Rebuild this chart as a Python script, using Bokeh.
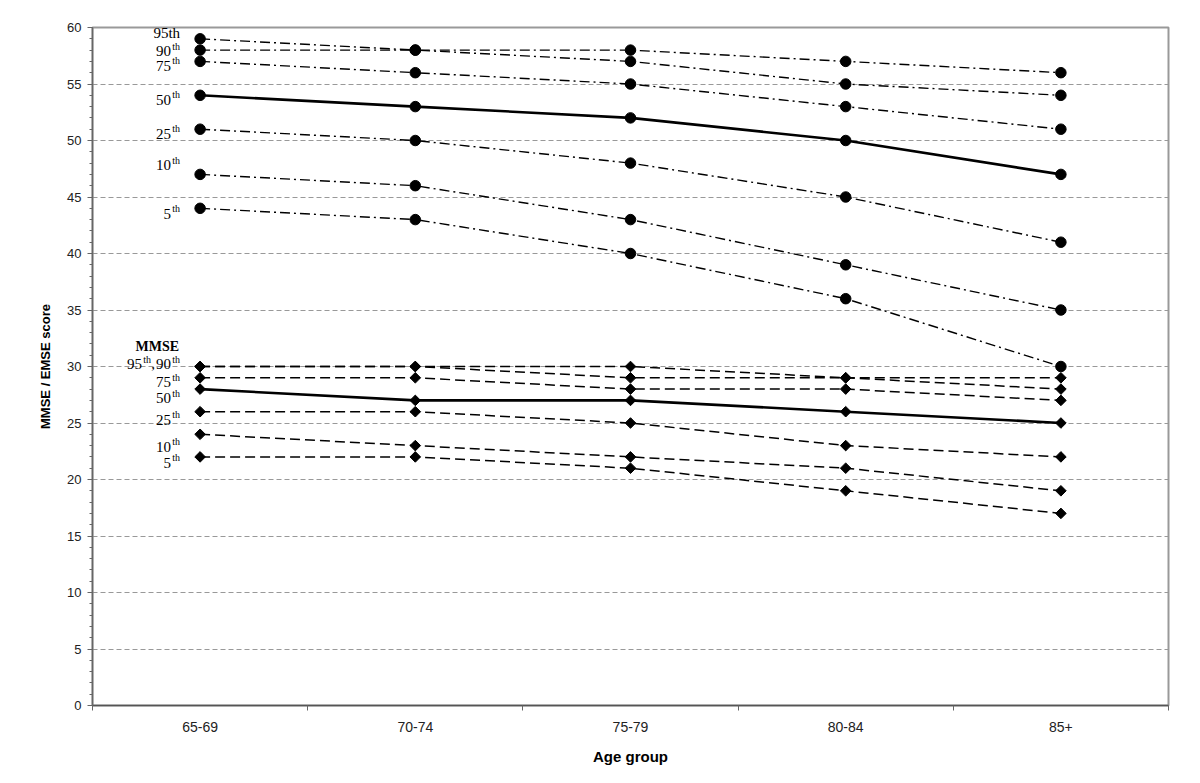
from bokeh.plotting import figure
from bokeh.models import FixedTicker, Range1d, SingleIntervalTicker
from bokeh.embed import file_html
from bokeh.resources import INLINE
from bokeh.core.properties import value
import math

age_groups = ["65-69", "70-74", "75-79", "80-84", "85+"]

# EMSE percentiles
emse_p95 = [59, 58, 58, 57, 56]
emse_p90 = [58, 58, 57, 55, 54]
emse_p75 = [57, 56, 55, 53, 51]
emse_p50 = [54, 53, 52, 50, 47]
emse_p25 = [51, 50, 48, 45, 41]
emse_p10 = [47, 46, 43, 39, 35]
emse_p05 = [44, 43, 40, 36, 30]

# MMSE percentiles
mmse_p95 = [30, 30, 30, 29, 29]
mmse_p90 = [30, 30, 29, 29, 28]
mmse_p75 = [29, 29, 28, 28, 27]
mmse_p50 = [28, 27, 27, 26, 25]
mmse_p25 = [26, 26, 25, 23, 22]
mmse_p10 = [24, 23, 22, 21, 19]
mmse_p05 = [22, 22, 21, 19, 17]

y_ticks = list(range(0, 61, 5))

xs = list(range(len(age_groups)))

p = figure(width=1184, height=767, output_backend="svg", toolbar_location=None,
           x_range=Range1d(-0.5, len(age_groups) - 0.5), y_range=Range1d(0, 60),
           min_border_left=92, min_border_right=16, min_border_top=27, min_border_bottom=60)

p.background_fill_color = "white"
p.border_fill_color = "white"
p.outline_line_color = "#999999"
p.outline_line_width = 2

# axes
p.yaxis.ticker = SingleIntervalTicker(interval=5, num_minor_ticks=5)
p.yaxis.major_tick_out = 5
p.yaxis.major_tick_in = 0
p.yaxis.minor_tick_out = 3
p.yaxis.minor_tick_in = 0
p.yaxis.axis_line_color = "#666666"
p.yaxis.axis_line_width = 1.5
p.yaxis.major_tick_line_color = "#666666"
p.yaxis.minor_tick_line_color = "#666666"
p.yaxis.major_label_text_font = "Liberation Sans"
p.yaxis.major_label_text_font_size = "13px"
p.yaxis.major_label_text_color = "#222222"
p.yaxis.major_label_standoff = 6
p.yaxis.axis_label = "MMSE / EMSE score"
p.yaxis.axis_label_text_font = "Liberation Sans"
p.yaxis.axis_label_text_font_style = "bold"
p.yaxis.axis_label_text_font_size = "13px"
p.yaxis.axis_label_text_color = "black"
p.yaxis.axis_label_standoff = 11

p.xaxis.ticker = FixedTicker(ticks=xs, minor_ticks=[i - 0.5 for i in range(len(age_groups) + 1)])
p.xaxis.major_label_overrides = {i: g for i, g in enumerate(age_groups)}
p.xaxis.major_tick_out = 0
p.xaxis.major_tick_in = 0
p.xaxis.minor_tick_out = 5
p.xaxis.minor_tick_in = 0
p.xaxis.axis_line_color = "#555555"
p.xaxis.axis_line_width = 1.5
p.xaxis.minor_tick_line_color = "#666666"
p.xaxis.major_label_text_font = "Liberation Sans"
p.xaxis.major_label_text_font_size = "14px"
p.xaxis.major_label_text_color = "#222222"
p.xaxis.major_label_standoff = 11
p.xaxis.axis_label = "Age group"
p.xaxis.axis_label_text_font = "Liberation Sans"
p.xaxis.axis_label_text_font_style = "bold"
p.xaxis.axis_label_text_font_size = "15px"
p.xaxis.axis_label_text_color = "black"
p.xaxis.axis_label_standoff = 13

p.xgrid.visible = False
p.ygrid.ticker = FixedTicker(ticks=y_ticks)
p.ygrid.grid_line_color = "#999999"
p.ygrid.grid_line_dash = "5 3"
p.ygrid.grid_line_width = 1

emse_series = [emse_p95, emse_p90, emse_p75, emse_p50, emse_p25, emse_p10, emse_p05]
mmse_series = [mmse_p95, mmse_p90, mmse_p75, mmse_p50, mmse_p25, mmse_p10, mmse_p05]

for s in emse_series:
    if s is emse_p50:
        p.line(xs, s, line_color="black", line_width=2.6)
    else:
        p.line(xs, s, line_color="black", line_width=1.4, line_dash="10 4 2 4")
for s in mmse_series:
    if s is mmse_p50:
        p.line(xs, s, line_color="black", line_width=2.6)
    else:
        p.line(xs, s, line_color="black", line_width=1.5, line_dash="10 5")

for s in emse_series:
    p.scatter(xs, s, marker="circle", size=10.5, fill_color="black", line_color="black")
for s in mmse_series:
    p.scatter(xs, s, marker="square", size=7.5, angle=math.pi / 4,
              fill_color="black", line_color="black")

# left-side labels
serif = value("Liberation Serif")
x0 = xs[0]


def txt(y, t, dx, size="14px", dy=0, bold=False):
    p.text(x=[x0], y=[y], text=[t], x_offset=dx, y_offset=dy, text_align="right",
           text_baseline="middle", text_font=serif, text_font_size=size,
           text_font_style="bold" if bold else "normal", text_color="black")


def pct(y, num):
    txt(y, num, -29, size="15px")
    txt(y, "th", -20, size="10px", dy=-5)


emse_label_y = [61.1, 59.5, 57.9, 56.6, 53.6, 50.6, 47.8, 43.5]
mmse_label_y = [31.8, 30.2, 28.6, 27.2, 25.3, 22.9, 21.5]

txt(emse_label_y[0], "EMSE", -21, size="14px", bold=True)
txt(emse_label_y[1], "95th", -20, size="15px")
pct(emse_label_y[2], "90")
pct(emse_label_y[3], "75")
pct(emse_label_y[4], "50")
pct(emse_label_y[5], "25")
pct(emse_label_y[6], "10")
pct(emse_label_y[7], "5")

txt(mmse_label_y[0], "MMSE", -21, size="14px", bold=True)
pct(mmse_label_y[1], "90")
txt(mmse_label_y[1], ",", -45, size="15px")
txt(mmse_label_y[1], "th", -49, size="10px", dy=-5)
txt(mmse_label_y[1], "95", -58, size="15px")
pct(mmse_label_y[2], "75")
pct(mmse_label_y[3], "50")
pct(mmse_label_y[4], "25")
pct(mmse_label_y[5], "10")
pct(mmse_label_y[6], "5")

open("out.html", "w").write(file_html(p, INLINE))
